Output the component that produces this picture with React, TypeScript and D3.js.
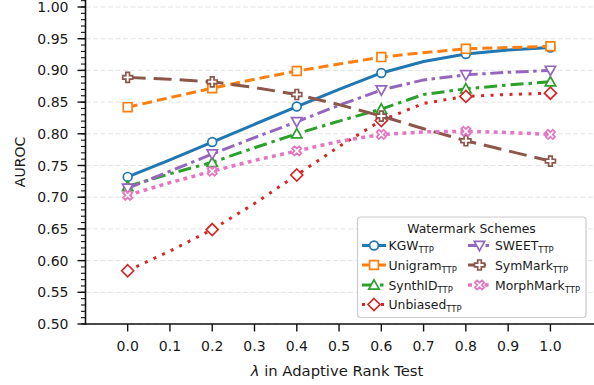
import React from "react";
import * as d3 from "d3";

const lambdas = [0.0, 0.1, 0.2, 0.3, 0.4, 0.5, 0.6, 0.7, 0.8, 0.9, 1.0];
const xTicks = [0.0, 0.1, 0.2, 0.3, 0.4, 0.5, 0.6, 0.7, 0.8, 0.9, 1.0];
const yTicks = [0.5, 0.55, 0.6, 0.65, 0.7, 0.75, 0.8, 0.85, 0.9, 0.95, 1.0];
const yMinorTicks = d3.range(50, 102).map((v) => v / 100);

const kgw = [0.732, 0.759, 0.787, 0.815, 0.843, 0.870, 0.896, 0.914, 0.926, 0.932, 0.936];
const unigram = [0.842, 0.857, 0.872, 0.886, 0.899, 0.910, 0.921, 0.928, 0.934, 0.936, 0.938];
const synthid = [0.717, 0.737, 0.755, 0.778, 0.800, 0.820, 0.839, 0.862, 0.871, 0.877, 0.882];
const unbiased = [0.584, 0.615, 0.649, 0.690, 0.735, 0.780, 0.821, 0.848, 0.859, 0.862, 0.864];
const sweet = [0.714, 0.741, 0.768, 0.794, 0.819, 0.845, 0.869, 0.885, 0.893, 0.897, 0.900];
const symmark = [0.889, 0.886, 0.882, 0.873, 0.862, 0.846, 0.828, 0.808, 0.789, 0.773, 0.757];
const morphmark = [0.703, 0.723, 0.741, 0.758, 0.773, 0.788, 0.799, 0.803, 0.804, 0.802, 0.799];

const seriesNames = ["KGW", "Unigram", "SynthID", "Unbiased", "SWEET", "SymMark", "MorphMark"];

type Series = {
  name: string;
  values: number[];
  color: string;
  dash: string;
  width: number;
  marker: string;
};

const series: Series[] = [
  { name: seriesNames[0], values: kgw, color: "#1f77b4", dash: "", width: 3, marker: "o" },
  { name: seriesNames[1], values: unigram, color: "#ff7f0e", dash: "10,5", width: 3, marker: "s" },
  { name: seriesNames[2], values: synthid, color: "#2ca02c", dash: "13,5,3.5,5", width: 3, marker: "^" },
  { name: seriesNames[3], values: unbiased, color: "#d62728", dash: "3,6.5", width: 3, marker: "D" },
  { name: seriesNames[4], values: sweet, color: "#9467bd", dash: "13,4.5,3.5,4.5", width: 3, marker: "v" },
  { name: seriesNames[5], values: symmark, color: "#8c564b", dash: "18,8", width: 3, marker: "P" },
  { name: seriesNames[6], values: morphmark, color: "#e377c2", dash: "4,4.3", width: 3.5, marker: "X" },
];

const FONT = "DejaVu Sans";

function markerPath(m: string): string {
  switch (m) {
    case "o": {
      const r = 4.4;
      return `M${r},0A${r},${r} 0 1,1 ${-r},0A${r},${r} 0 1,1 ${r},0Z`;
    }
    case "s": {
      const h = 4.4;
      return `M${-h},${-h}H${h}V${h}H${-h}Z`;
    }
    case "^": {
      const h = 5.2;
      return `M0,${-h}L${h},${h * 0.8}L${-h},${h * 0.8}Z`;
    }
    case "v": {
      const h = 5.2;
      return `M0,${h}L${h},${-h * 0.8}L${-h},${-h * 0.8}Z`;
    }
    case "D": {
      const h = 6;
      return `M0,${-h}L${h},0L0,${h}L${-h},0Z`;
    }
    case "P": {
      const a = 5, b = 1.8;
      return `M${-b},${-a}H${b}V${-b}H${a}V${b}H${b}V${a}H${-b}V${b}H${-a}V${-b}H${-b}Z`;
    }
    case "X": {
      const pts: [number, number][] = [];
      const a = 5, b = 1.6;
      const base: [number, number][] = [
        [-b, -a], [b, -a], [b, -b], [a, -b], [a, b], [b, b], [b, a], [-b, a], [-b, b], [-a, b], [-a, -b], [-b, -b],
      ];
      const c = Math.SQRT1_2;
      for (const [x, y] of base) pts.push([x * c - y * c, x * c + y * c]);
      return "M" + pts.map((p) => `${p[0].toFixed(2)},${p[1].toFixed(2)}`).join("L") + "Z";
    }
  }
  return "";
}

export default function App() {
  const W = 594, H = 385;
  const x = d3.scaleLinear().domain([-0.1, 1.1]).range([85.4, 592.7]);
  const y = d3.scaleLinear().domain([0.5, 1.0]).range([324, 7]);
  const axisX = 85.5;
  const axisY = 324;

  const line = d3
    .line<number>()
    .x((_, i) => x(lambdas[i]))
    .y((v) => y(v));

  const markerIdx = [0, 2, 4, 6, 8, 10];

  const col1 = series.slice(0, 4);
  const col2 = series.slice(4);
  const rowBase = [250, 269.5, 289.5, 309];

  const legendItem = (s: Series, hx0: number, hx1: number, tx: number, base: number) => {
    const cy = base - 4.5;
    return (
      <g key={"lg" + s.name}>
        <line x1={hx0} x2={hx1} y1={cy} y2={cy} stroke={s.color} strokeWidth={s.width}
          strokeDasharray={s.dash || undefined} />
        <path d={markerPath(s.marker)} transform={`translate(${(hx0 + hx1) / 2},${cy})`}
          fill="white" stroke={s.color} strokeWidth={1.7} />
        <text x={tx} y={base} fontFamily={FONT} fontSize={12.4} fill="#1a1a1a">
          {s.name}
          <tspan fontSize={8.5} dy={3}>TTP</tspan>
        </text>
      </g>
    );
  };

  return (
    <svg width={W} height={H} style={{ position: "absolute", left: 0, top: 0, background: "white" }}>
      <rect x={0} y={0} width={W} height={H} fill="white" />
      {yTicks.map((t) => (
        <line key={"g" + t} x1={axisX} x2={W} y1={y(t)} y2={y(t)} stroke="#e3e3e3"
          strokeWidth={1} strokeDasharray="5,2.5" />
      ))}
      {series.map((s) => (
        <g key={s.name}>
          <path d={line(s.values) || ""} fill="none" stroke={s.color} strokeWidth={s.width}
            strokeDasharray={s.dash || undefined} strokeLinejoin="round" />
          {markerIdx.map((i) => (
            <path key={i} d={markerPath(s.marker)}
              transform={`translate(${x(lambdas[i])},${y(s.values[i])})`}
              fill="white" stroke={s.color} strokeWidth={1.7} />
          ))}
        </g>
      ))}
      <line x1={axisX} x2={axisX} y1={0} y2={axisY + 0.75} stroke="#111" strokeWidth={1.6} />
      <line x1={axisX - 0.75} x2={W} y1={axisY} y2={axisY} stroke="#111" strokeWidth={1.6} />
      {yMinorTicks.map((t) => (
        <line key={"ym" + t} x1={axisX - 4.5} x2={axisX} y1={y(t)} y2={y(t)} stroke="#111" strokeWidth={1.1} />
      ))}
      {yTicks.map((t) => (
        <g key={"y" + t}>
          <line x1={axisX - 8} x2={axisX} y1={y(t)} y2={y(t)} stroke="#111" strokeWidth={1.4} />
          <text x={68.5} y={y(t) + 5} textAnchor="end" fontFamily={FONT} fontSize={14} fill="#1a1a1a">
            {t.toFixed(2)}
          </text>
        </g>
      ))}
      {xTicks.map((t) => (
        <g key={"x" + t}>
          <line x1={x(t)} x2={x(t)} y1={axisY} y2={axisY + 7.5} stroke="#111" strokeWidth={1.4} />
          <text x={x(t)} y={351} textAnchor="middle" fontFamily={FONT} fontSize={14} fill="#1a1a1a">
            {t.toFixed(1)}
          </text>
        </g>
      ))}
      <text x={337} y={375.5} textAnchor="middle" fontFamily={FONT} fontSize={14.8} fill="#1a1a1a">
        <tspan fontStyle="italic">λ</tspan> in Adaptive Rank Test
      </text>
      <text transform={`translate(25,${162}) rotate(-90)`} textAnchor="middle" fontFamily={FONT}
        fontSize={14} fill="#1a1a1a">
        AUROC
      </text>
      <rect x={357.5} y={217} width={228.5} height={100.5} rx={3} fill="white" fillOpacity={0.85}
        stroke="#cccccc" strokeWidth={1.2} />
      <text x={471.5} y={232.5} textAnchor="middle" fontFamily={FONT} fontSize={12.4} fill="#1a1a1a">
        Watermark Schemes
      </text>
      {col1.map((s, i) => legendItem(s, 362, 386, 388.5, rowBase[i]))}
      {col2.map((s, i) => legendItem(s, 468, 491, 495, rowBase[i]))}
    </svg>
  );
}
